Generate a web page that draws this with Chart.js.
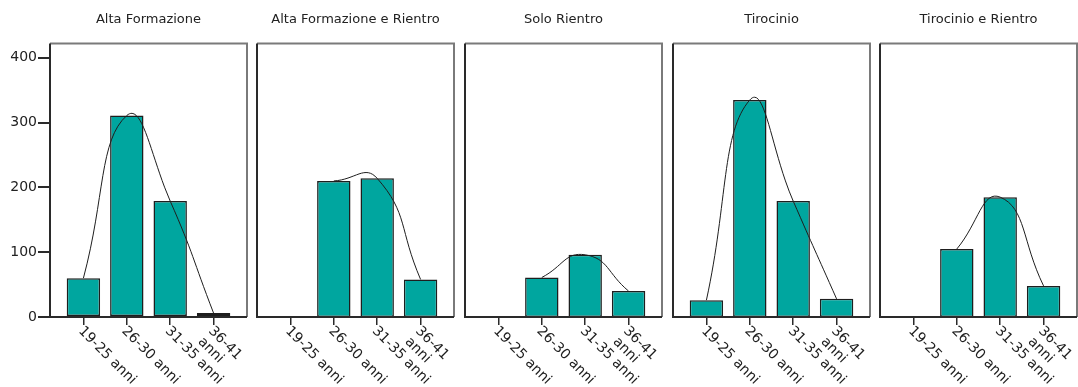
<!DOCTYPE html>
<html>
<head>
<meta charset="utf-8">
<script src="https://cdn.jsdelivr.net/npm/chart.js@4"></script>
<style>
  html, body { margin: 0; padding: 0; background: #fff; }
  #wrap { position: relative; width: 1078px; height: 387px; overflow: hidden; background: #fff; }
  .panel { position: absolute; left: 0; top: 0; width: 1078px; height: 387px; }
</style>
</head>
<body>
<div id="wrap"></div>
<script>
// age classes on the x axis
const ageGroups = ["19-25 anni", "26-30 anni", "31-35 anni", ["36-41", "anni"]];
const yTicks = [0, 100, 200, 300, 400];

const programmes = ["Alta Formazione", "Alta Formazione e Rientro", "Solo Rientro", "Tirocinio", "Tirocinio e Rientro"];

// counts per age class, one array per programme
const altaFormazione = [60, 311, 179, 6];
const altaFormazioneRientro = [0, 210, 214, 58];
const soloRientro = [0, 61, 96, 40];
const tirocinio = [26, 335, 179, 28];
const tirocinioRientro = [0, 105, 185, 48];

const counts = [altaFormazione, altaFormazioneRientro, soloRientro, tirocinio, tirocinioRientro];

// panel placement
const frameLeft = [50, 257, 465, 673, 880];
const frameWidth = 197;

const panelFrame = {
  id: "panelFrame",
  afterDatasetsDraw(chart) {
    const { ctx, chartArea: a } = chart;
    ctx.save();
    ctx.lineWidth = 2;
    ctx.strokeStyle = "#7a7a7a";
    ctx.beginPath();
    ctx.moveTo(a.left, a.top);
    ctx.lineTo(a.right, a.top);
    ctx.lineTo(a.right, a.bottom);
    ctx.stroke();
    ctx.strokeStyle = "#2a2a2a";
    ctx.beginPath();
    ctx.moveTo(a.left, a.top);
    ctx.lineTo(a.left, a.bottom);
    ctx.lineTo(a.right, a.bottom);
    ctx.stroke();
    ctx.restore();
  }
};

// x labels run down to the right from each tick
const slantedLabels = {
  id: "slantedLabels",
  afterDraw(chart) {
    const xs = chart.scales.x, ctx = chart.ctx;
    const top = chart.chartArea.bottom + 7;
    ctx.save();
    ctx.font = "14px 'DejaVu Sans'";
    ctx.fillStyle = "#1e1e1e";
    ctx.textAlign = "left";
    ctx.textBaseline = "top";
    xs.ticks.forEach(t => {
      const lines = [].concat(ageGroups[t.value]);
      ctx.save();
      ctx.translate(xs.getPixelForValue(t.value) + 2, top);
      ctx.rotate(Math.PI / 4);
      lines.forEach((s, k) => ctx.fillText(s, 0, k * 15));
      ctx.restore();
    });
    ctx.restore();
  }
};

function makePanel(i) {
  const div = document.createElement("div");
  div.className = "panel";
  const canvas = document.createElement("canvas");
  div.appendChild(canvas);
  document.getElementById("wrap").appendChild(div);
  const first = i === 0;
  const values = counts[i];

  new Chart(canvas, {
    data: {
      datasets: [
        {
          type: "line",
          order: 0,
          data: values.map((v, k) => ({ x: k, y: v || null })),
          borderColor: "#1e1e1e",
          borderWidth: 1,
          pointRadius: 0,
          tension: 0.5,
        },
        {
          type: "bar",
          order: 1,
          data: values.map((v, k) => ({ x: k, y: v })),
          backgroundColor: "#00a69f",
          borderColor: "#1e1e1e",
          borderWidth: 1.5,
          borderSkipped: false,
          barPercentage: 0.77,
          categoryPercentage: 1,
        },
      ],
    },
    options: {
      responsive: true,
      maintainAspectRatio: false,
      animation: false,
      layout: {
        padding: {
          left: first ? 0 : frameLeft[i],
          right: 1078 - frameLeft[i] - frameWidth,
          top: 0,
          bottom: 0,
        },
      },
      plugins: {
        legend: { display: false },
        tooltip: { enabled: false },
        title: {
          display: true,
          fullSize: false,
          text: programmes[i],
          color: "#222",
          font: { family: "DejaVu Sans", size: 13, weight: "normal" },
          padding: { top: 12, bottom: 16 },
        },
      },
      scales: {
        x: {
          type: "linear",
          offset: false,
          min: -0.77,
          max: 3.77,
          afterBuildTicks: s => { s.ticks = ageGroups.map((g, k) => ({ value: k })); },
          afterFit: s => { s.height = 70; },
          grid: { offset: false, drawOnChartArea: false, tickLength: 8, tickColor: "#2a2a2a", lineWidth: 1.5 },
          border: { display: false },
          ticks: { display: false },
        },
        y: {
          display: first,
          min: 0,
          max: 422,
          afterBuildTicks: s => { s.ticks = yTicks.map(v => ({ value: v })); },
          afterFit: first ? s => { s.width = 50; } : undefined,
          grid: { drawOnChartArea: false, tickLength: 12, tickColor: "#2a2a2a", lineWidth: 2 },
          border: { display: false },
          ticks: { color: "#222", font: { family: "DejaVu Sans", size: 14 }, padding: 1 },
        },
      },
    },
    plugins: [panelFrame, slantedLabels],
  });
}

programmes.forEach((p, i) => makePanel(i));
</script>
</body>
</html>
